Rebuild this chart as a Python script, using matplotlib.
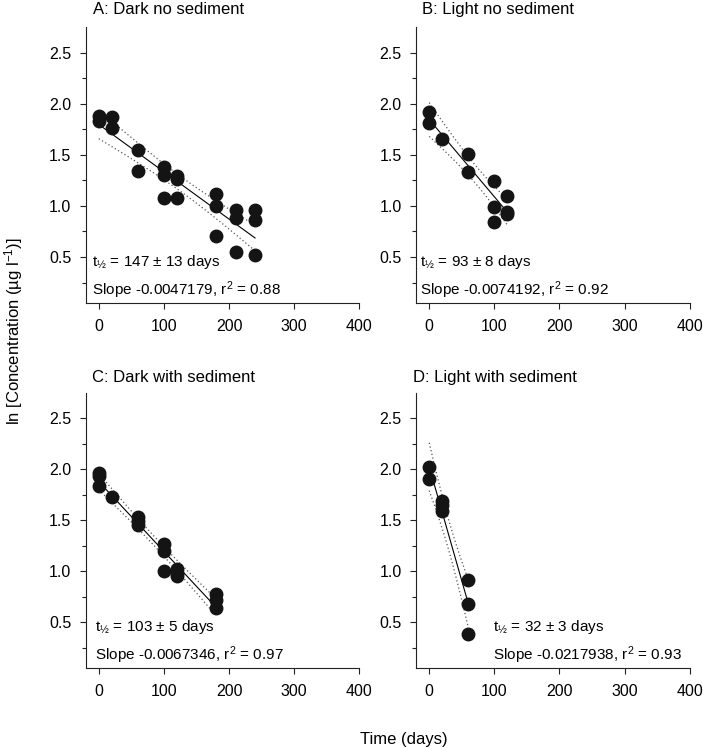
import numpy as np
import matplotlib
matplotlib.use('Agg')
import matplotlib.pyplot as plt

plt.rcParams['font.family'] = ['Liberation Sans', 'DejaVu Sans']
plt.rcParams['font.size'] = 11
plt.rcParams['mathtext.fontset'] = 'custom'
plt.rcParams['mathtext.rm'] = 'Liberation Sans'
plt.rcParams['mathtext.default'] = 'regular'

# ---- data ----
a_days = [0, 0, 20, 20, 60, 60, 100, 100, 100, 120, 120, 120, 180, 180, 180, 210, 210, 210, 240, 240, 240]
a_ln = [1.88, 1.83, 1.87, 1.76, 1.55, 1.34, 1.38, 1.30, 1.08, 1.29, 1.26, 1.08, 1.12, 1.00, 0.71, 0.96, 0.88, 0.55, 0.96, 0.86, 0.52]

b_days = [0, 0, 20, 60, 60, 100, 100, 100, 120, 120, 120]
b_ln = [1.92, 1.81, 1.65, 1.51, 1.33, 1.24, 0.99, 0.84, 1.10, 0.94, 0.92]

c_days = [0, 0, 0, 20, 60, 60, 60, 100, 100, 100, 120, 120, 120, 180, 180, 180]
c_ln = [1.96, 1.93, 1.84, 1.73, 1.53, 1.49, 1.45, 1.27, 1.20, 1.00, 1.02, 0.98, 0.95, 0.78, 0.72, 0.64]

d_days = [0, 0, 20, 20, 20, 60, 60, 60]
d_ln = [2.02, 1.90, 1.69, 1.65, 1.59, 0.92, 0.68, 0.39]

titles = ['A: Dark no sediment', 'B: Light no sediment', 'C: Dark with sediment', 'D: Light with sediment']
half_lives = ['147 ± 13', '93 ± 8', '103 ± 5', '32 ± 3']
slopes = ['-0.0047179', '-0.0074192', '-0.0067346', '-0.0217938']
r2s = ['0.88', '0.92', '0.97', '0.93']

# two-sided 95% t values by degrees of freedom
t95 = {6: 2.447, 9: 2.262, 14: 2.145, 19: 2.093}

fig = plt.figure(figsize=(7.03, 7.49), dpi=100)

# axes boxes in figure fractions
boxes = [[0.122, 0.5955, 0.389, 0.3685],
         [0.592, 0.5955, 0.389, 0.3685],
         [0.122, 0.1077, 0.389, 0.368],
         [0.592, 0.1077, 0.389, 0.368]]
title_x = [0.025, 0.02, 0.022, -0.013]
title_y = [1.047, 1.047, 1.038, 1.038]
note_x = [0.021, 0.015, 0.035, 0.281]

series = [(a_days, a_ln), (b_days, b_ln), (c_days, c_ln), (d_days, d_ln)]

for i, (days, ln) in enumerate(series):
    ax = fig.add_axes(boxes[i])
    x = np.array(days, dtype=float)
    y = np.array(ln)

    # linear regression with 95% confidence band of the mean
    slope, icpt = np.polyfit(x, y, 1)
    n = len(x)
    resid = y - (icpt + slope * x)
    s = np.sqrt(np.sum(resid ** 2) / (n - 2))
    xs = np.linspace(x.min(), x.max(), 100)
    fit = icpt + slope * xs
    se = s * np.sqrt(1 / n + (xs - x.mean()) ** 2 / np.sum((x - x.mean()) ** 2))
    t = t95[n - 2]
    ax.plot(xs, fit, color='black', lw=0.8, zorder=2)
    ax.plot(xs, fit + t * se, color='#555555', lw=0.9, ls=(0, (1, 2)), zorder=2)
    ax.plot(xs, fit - t * se, color='#555555', lw=0.9, ls=(0, (1, 2)), zorder=2)

    ax.plot(x, y, 'o', color='#141414', markersize=9, zorder=3, clip_on=False)

    ax.set_xlim(-20, 400)
    ax.set_ylim(0.05, 2.75)
    ax.set_xticks([0, 100, 200, 300, 400])
    ax.set_yticks([0.5, 1.0, 1.5, 2.0, 2.5])
    ax.set_yticks([0.25, 0.75, 1.25, 1.75, 2.25], minor=True)
    ax.yaxis.set_major_formatter(matplotlib.ticker.FormatStrFormatter('%.1f'))
    ax.tick_params(axis='both', which='major', direction='out', length=4.3, width=0.8,
                   colors='#222222', labelcolor='black', labelsize=11.5)
    ax.tick_params(axis='y', which='minor', direction='out', length=3, width=0.8, colors='#222222')
    ax.tick_params(axis='x', pad=7)
    ax.tick_params(axis='y', pad=6)
    for side in ['top', 'right']:
        ax.spines[side].set_visible(False)
    for side in ['left', 'bottom']:
        ax.spines[side].set_linewidth(0.8)
        ax.spines[side].set_color('#222222')

    ax.text(title_x[i], title_y[i], titles[i], transform=ax.transAxes, ha='left', va='baseline',
            fontsize=12)
    ax.text(note_x[i], 0.135, 't$_{½}$ = ' + half_lives[i] + ' days', transform=ax.transAxes,
            ha='left', va='baseline', fontsize=11)
    ax.text(note_x[i], 0.03, 'Slope ' + slopes[i] + ', r$^{2}$ = ' + r2s[i], transform=ax.transAxes,
            ha='left', va='baseline', fontsize=11)

fig.text(0.019, 0.558, 'ln [Concentration (µg l$^{-1}$)]', rotation=90, ha='center', va='center',
         fontsize=12)
fig.text(0.575, 0.013, 'Time (days)', ha='center', va='center', fontsize=12)

fig.savefig('out.png', dpi=100)
